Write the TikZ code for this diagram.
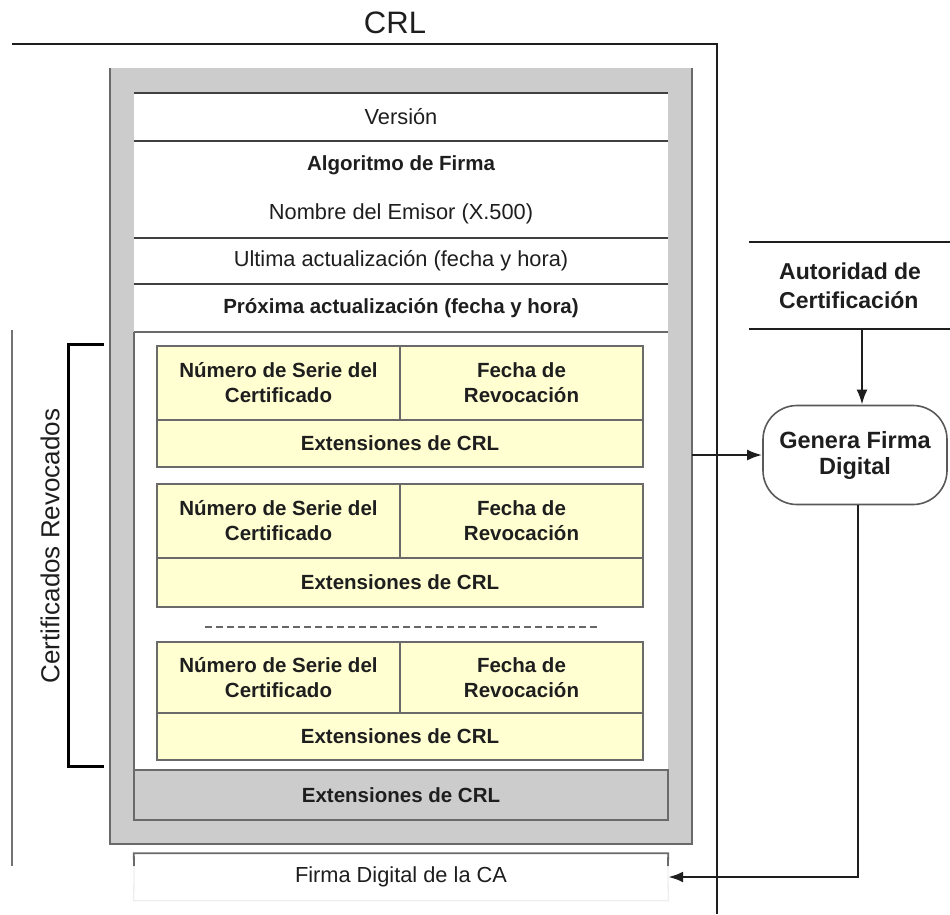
\documentclass[tikz,border=0pt]{standalone}
\usepackage{fontspec}
\setmainfont{Liberation Sans}
\usetikzlibrary{arrows.meta}

\definecolor{framegray}{HTML}{CCCCCC}
\definecolor{edgegray}{HTML}{6A6A6A}
\definecolor{cellyellow}{HTML}{FFFFD2}
\definecolor{inkcol}{HTML}{1E1E1E}

\tikzset{
  txt/.style={font=\fontsize{21.8}{25}\selectfont, text=inkcol, align=center, inner sep=0pt},
  btxt/.style={font=\fontsize{20.5}{25}\selectfont\bfseries, text=inkcol, align=center, inner sep=0pt},
  rowbox/.style={txt, minimum width=534pt, minimum height=48pt},
  cellbox/.style={btxt, draw=edgegray, line width=1.6pt, fill=cellyellow},
  halfcell/.style={cellbox, minimum width=243pt},
  fullcell/.style={cellbox, minimum width=486pt},
  outerline/.style={line width=1.8pt, draw=inkcol},
  sepline/.style={line width=2.2pt, draw=black!75},
  conn/.style={line width=2.4pt, draw=inkcol, -{Latex[length=15pt,width=11pt]}},
}

\begin{document}
\begin{tikzpicture}[x=1pt,y=-1pt]
\useasboundingbox[fill=white] (0,0) rectangle (950,914);

% title and outer frame of the list
\node[font=\fontsize{31}{33}\selectfont, text=inkcol] (title) at (395,23) {CRL};
\draw[outerline] (12,44) -- (717,44) -- (717,914);
\draw[line width=1.6pt, draw=black!55] (12,330) -- (12,866);

% gray signed-part frame
\fill[framegray] (110,68) rectangle (692,844);
\draw[line width=1.6pt, draw=edgegray] (110,68) -- (110,844) -- (692,844) -- (692,68);
\fill[white] (134,93) rectangle (668,770);
\draw[line width=1.4pt, draw=edgegray] (134,332) -- (134,770);

% header fields
\node[rowbox] (ver) at (401,117) {Versión};
\node[rowbox, minimum height=49pt, font=\fontsize{20.5}{25}\selectfont\bfseries] (alg) at (401,165.5) {Algoritmo de Firma};
\node[rowbox] (emi) at (401,214) {Nombre del Emisor (X.500)};
\node[rowbox, minimum height=46pt] (ult) at (401,261) {Ultima actualización (fecha y hora)};
\node[rowbox, font=\fontsize{20.5}{25}\selectfont\bfseries] (prox) at (401,308) {Próxima actualización (fecha y hora)};

\draw[sepline] (ver.north west) -- (ver.north east);
\draw[sepline] (ver.south west) -- (ver.south east);
\draw[sepline] (emi.south west) -- (emi.south east);
\draw[sepline] (ult.south west) -- (ult.south east);
\draw[line width=2.2pt, draw=edgegray] (prox.south west) -- (prox.south east);

% revoked certificate entries
\node[halfcell, minimum height=74pt] (num1) at (278.5,383) {Número de Serie del\\Certificado};
\node[halfcell, minimum height=74pt] (fec1) at (521.5,383) {Fecha de\\Revocación};
\node[fullcell, minimum height=47pt] (ext1) at (400,443.5) {Extensiones de CRL};

\node[halfcell, minimum height=74pt] (num2) at (278.5,521) {Número de Serie del\\Certificado};
\node[halfcell, minimum height=74pt] (fec2) at (521.5,521) {Fecha de\\Revocación};
\node[fullcell, minimum height=49pt] (ext2) at (400,582.5) {Extensiones de CRL};

\coordinate (dashl) at (205,627);
\coordinate (dashr) at (597,627);
\draw[line width=2.2pt, draw=black!60, dash pattern=on 7pt off 4pt] (dashl) -- (dashr);

\node[halfcell, minimum height=71pt] (num3) at (278.5,677.5) {Número de Serie del\\Certificado};
\node[halfcell, minimum height=71pt] (fec3) at (521.5,677.5) {Fecha de\\Revocación};
\node[fullcell, minimum height=47pt] (ext3) at (400,736.5) {Extensiones de CRL};

% list-level extensions
\node[btxt, draw=edgegray, line width=1.6pt, fill=framegray, minimum width=534pt, minimum height=50pt] (extcrl) at (401,795) {Extensiones de CRL};

% bracket and label for the revoked entries
\draw[line width=3pt, draw=black] (104,344) -- (68,344) -- (68,766) -- (104,766);
\node[txt, font=\fontsize{26}{28}\selectfont, rotate=90] (revlbl) at (50,546) {Certificados Revocados};

% signature field
\node[txt, minimum width=534pt, minimum height=47pt] (firma) at (401,877) {Firma Digital de la CA};
\draw[line width=1.8pt, draw=edgegray] (134,866) -- (firma.north west) -- (firma.north east) -- (668,866);
\draw[line width=0.8pt, draw=black!10] (134,866) -- (firma.south west) -- (firma.south east) -- (668,866);

% certification authority
\node[btxt, font=\fontsize{23}{29}\selectfont\bfseries, align=left, anchor=west] (ca) at (779,285.5) {Autoridad de\\Certificación};
\coordinate (catl) at (749,242);
\coordinate (catr) at (950,242);
\coordinate (cabl) at (749,329);
\coordinate (cabr) at (950,329);
\coordinate (caout) at (862,329);
\draw[line width=1.8pt, draw=inkcol] (catl) -- (catr);
\draw[line width=1.8pt, draw=inkcol] (cabl) -- (cabr);

% signing process
\node[btxt, font=\fontsize{23.5}{26}\selectfont\bfseries, draw=black!65, line width=1.6pt, rounded corners=34pt, minimum width=184pt, minimum height=99pt] (gen) at (855,455) {Genera Firma\\Digital};

% connectors
\coordinate (frameout) at (692,455);
\coordinate (bend) at (858,877);
\draw[conn] (caout) -- (caout |- gen.north);
\draw[conn] (frameout) -- (gen.west);
\draw[conn] (gen.south -| bend) -- (bend) -- (firma.east);
\end{tikzpicture}
\end{document}
